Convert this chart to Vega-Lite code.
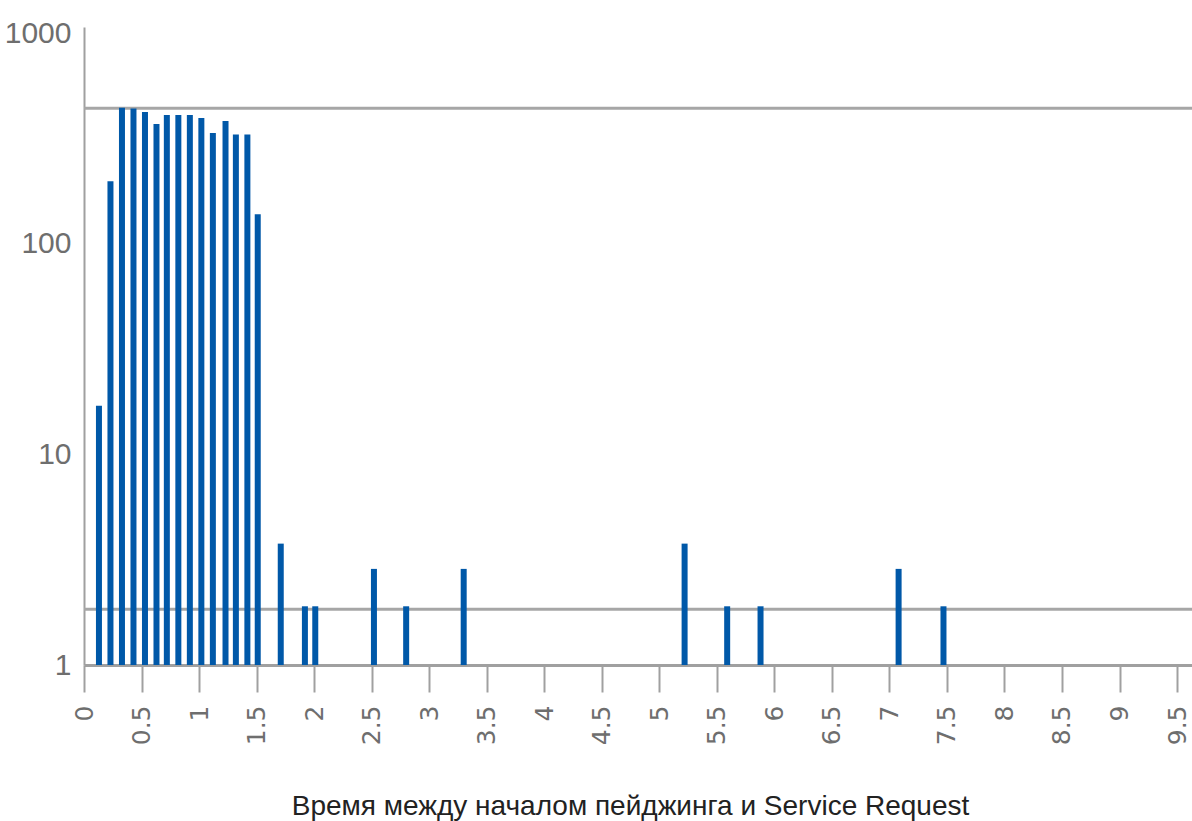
{
  "$schema": "https://vega.github.io/schema/vega-lite/v6.json",
  "width": 1108,
  "height": 638,
  "autosize": {"type": "none"},
  "padding": {"left": 84, "top": 27, "right": 0, "bottom": 156},
  "background": "white",
  "config": {"view": {"stroke": null}},
  "datasets": {
    "bars": [
      {"t": 0.13, "n": 17},
      {"t": 0.23, "n": 198},
      {"t": 0.33, "n": 443},
      {"t": 0.43, "n": 439},
      {"t": 0.53, "n": 423},
      {"t": 0.63, "n": 371},
      {"t": 0.72, "n": 409},
      {"t": 0.82, "n": 409},
      {"t": 0.92, "n": 409},
      {"t": 1.02, "n": 396},
      {"t": 1.12, "n": 336},
      {"t": 1.23, "n": 383},
      {"t": 1.32, "n": 330},
      {"t": 1.42, "n": 330},
      {"t": 1.51, "n": 138},
      {"t": 1.71, "n": 3.77},
      {"t": 1.92, "n": 1.9},
      {"t": 2.01, "n": 1.9},
      {"t": 2.52, "n": 2.86},
      {"t": 2.8, "n": 1.9},
      {"t": 3.3, "n": 2.86},
      {"t": 5.22, "n": 3.77},
      {"t": 5.59, "n": 1.9},
      {"t": 5.88, "n": 1.9},
      {"t": 7.08, "n": 2.86},
      {"t": 7.47, "n": 1.9}
    ],
    "refs": [{"v": 440}, {"v": 1.84}]
  },
  "layer": [
    {
      "data": {"name": "refs"},
      "mark": {"type": "rule", "color": "#a6a6a6", "strokeWidth": 3},
      "encoding": {
        "y": {"field": "v", "type": "quantitative", "scale": {"type": "log", "domain": [1, 1070]}}
      }
    },
    {
      "data": {"name": "bars"},
      "mark": {"type": "bar", "color": "#0058A8", "size": 6},
      "encoding": {
        "x": {
          "field": "t",
          "type": "quantitative",
          "scale": {"domain": [0, 9.63], "nice": false, "zero": false, "padding": 0},
          "axis": {
            "title": "Время между началом пейджинга и Service Request",
            "values": [0, 0.5, 1, 1.5, 2, 2.5, 3, 3.5, 4, 4.5, 5, 5.5, 6, 6.5, 7, 7.5, 8, 8.5, 9, 9.5],
            "format": "~g",
            "labelAngle": -90,
            "labelFont": "DejaVu Sans",
            "labelFontSize": 25,
            "labelColor": "#6e6e6e",
            "labelPadding": 13,
            "labelOverlap": false,
            "labelFlush": false,
            "labelBound": false,
            "tickSize": 27,
            "tickColor": "#a0a0a0",
            "tickWidth": 2,
            "domainColor": "#a0a0a0",
            "domainWidth": 3,
            "grid": false,
            "titleFont": "Liberation Sans",
            "titleFontSize": 28,
            "titleFontWeight": "normal",
            "titleColor": "#222222",
            "titleBaseline": "alphabetic",
            "titleY": 149,
            "titleX": 546
          }
        },
        "y": {
          "field": "n",
          "type": "quantitative",
          "scale": {"type": "log", "domain": [1, 1070]},
          "axis": {
            "title": null,
            "values": [1, 10, 100, 1000],
            "format": "d",
            "grid": false,
            "ticks": false,
            "labelPadding": 13,
            "labelFont": "Liberation Sans",
            "labelFontSize": 30,
            "labelColor": "#6e6e6e",
            "domainColor": "#a0a0a0",
            "domainWidth": 2
          }
        },
        "y2": {"datum": 1}
      }
    }
  ]
}
